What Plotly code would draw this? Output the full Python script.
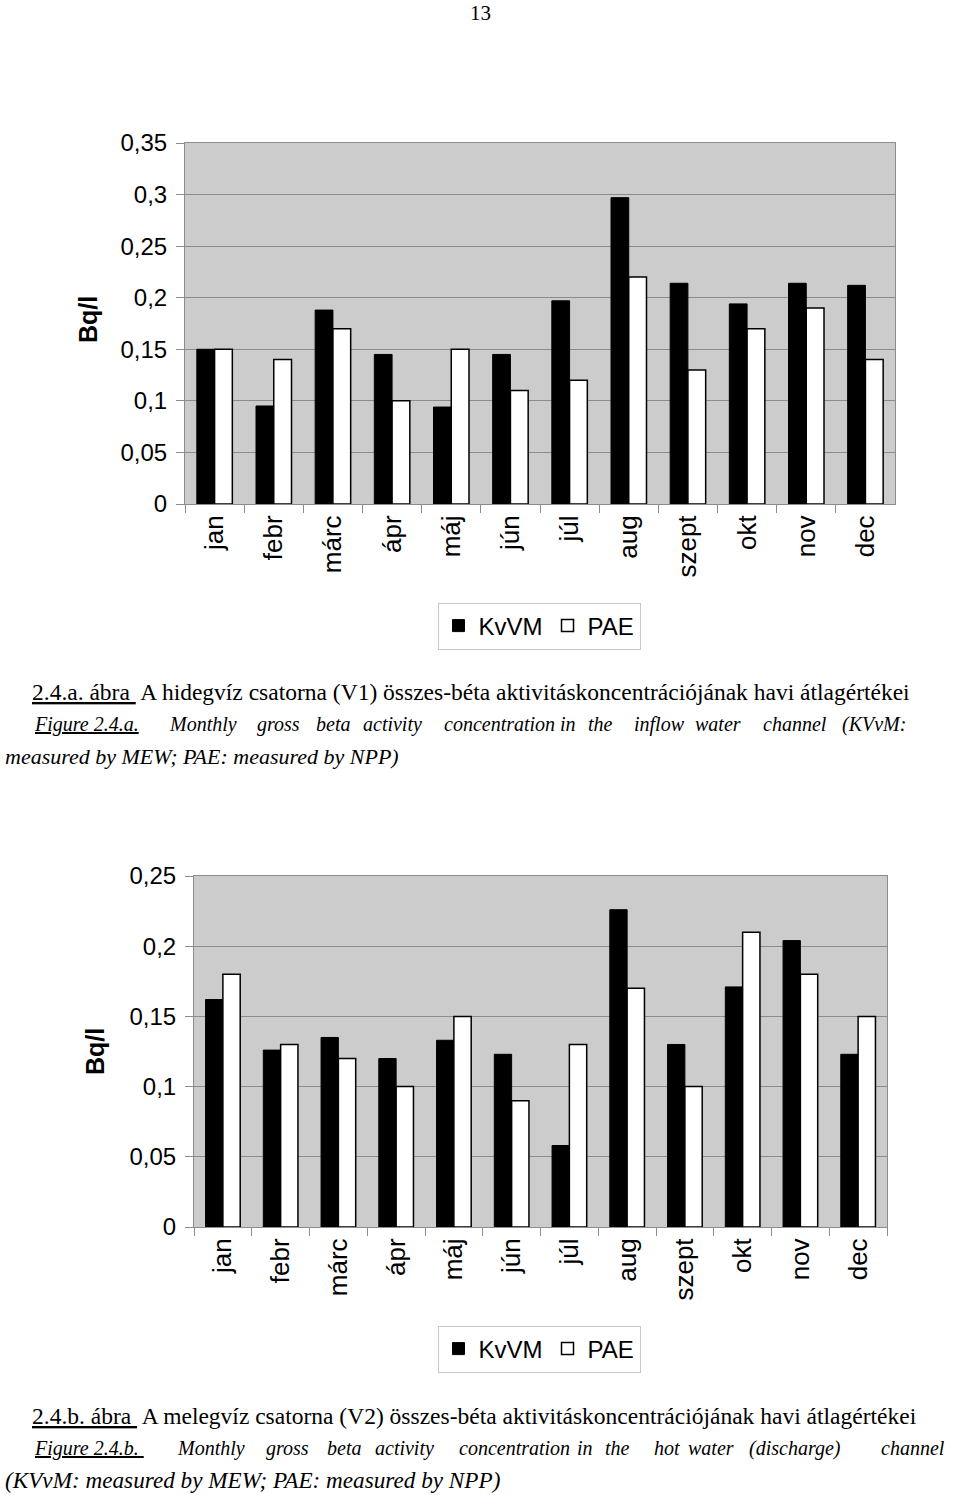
import plotly.graph_objects as go

months = ["jan", "febr", "márc", "ápr", "máj", "jún", "júl", "aug", "szept", "okt", "nov", "dec"]

# Figure 2.4.a (inflow / cold water channel V1), Bq/l
v1_kvvm = [0.150, 0.095, 0.188, 0.145, 0.094, 0.145, 0.197, 0.297, 0.214, 0.194, 0.214, 0.212]
v1_pae = [0.150, 0.140, 0.170, 0.100, 0.150, 0.110, 0.120, 0.220, 0.130, 0.170, 0.190, 0.140]

# Figure 2.4.b (hot water / discharge channel V2), Bq/l
v2_kvvm = [0.162, 0.126, 0.135, 0.120, 0.133, 0.123, 0.058, 0.226, 0.130, 0.171, 0.204, 0.123]
v2_pae = [0.180, 0.130, 0.120, 0.100, 0.150, 0.090, 0.130, 0.170, 0.100, 0.210, 0.180, 0.150]

series_names = ["KvVM", "PAE"]

W, H = 960, 1495


def px(x):
    return x / W


def py(y):
    return 1 - y / H


fig = go.Figure()

SANS = "Liberation Sans, Arial"
SERIF = "Liberation Serif, Times New Roman"

for (k, p, xa, ya, lg) in [(v1_kvvm, v1_pae, "x", "y", "legend"), (v2_kvvm, v2_pae, "x2", "y2", "legend2")]:
    fig.add_trace(go.Bar(x=months, y=k, name=series_names[0], xaxis=xa, yaxis=ya, legend=lg,
                         marker=dict(color="black", line=dict(color="black", width=1))))
    fig.add_trace(go.Bar(x=months, y=p, name=series_names[1], xaxis=xa, yaxis=ya, legend=lg,
                         marker=dict(color="white", line=dict(color="black", width=1.5))))

common_x = dict(type="category", tickangle=-90, tickfont=dict(family=SANS, size=26, color="black"),
                showline=True, linecolor="#8c8c8c",
                linewidth=1, ticks="outside", tickson="boundaries", ticklen=8, tickcolor="#8c8c8c",
                showgrid=False, mirror=True, fixedrange=True, automargin=False)
common_y = dict(tickfont=dict(family=SANS, size=24, color="black"), showline=True, linecolor="#8c8c8c",
                linewidth=1, ticks="outside",
                ticklen=8, tickcolor="#8c8c8c", gridcolor="#8c8c8c", gridwidth=1, mirror=True,
                dtick=0.05, zeroline=False, ticklabelstandoff=4, automargin=False)

legend_common = dict(orientation="h", xanchor="center", yanchor="middle",
                     bordercolor="#c8c8c8", borderwidth=1, bgcolor="white",
                     font=dict(family=SANS, size=24, color="black"),
                     itemwidth=30, tracegroupgap=0)

fig.update_layout(
    width=W, height=H, autosize=False,
    margin=dict(l=0, r=0, t=0, b=0, pad=0, autoexpand=False),
    paper_bgcolor="white", plot_bgcolor="#cccccc",
    separators=", ",
    barmode="group", bargap=0.4, bargroupgap=0.0,
    xaxis=dict(domain=[px(185), px(895)], anchor="y", **common_x),
    yaxis=dict(domain=[py(504), py(143)], anchor="x", range=[0, 0.35], **common_y),
    xaxis2=dict(domain=[px(194), px(887)], anchor="y2", **common_x),
    yaxis2=dict(domain=[py(1227), py(876)], anchor="x2", range=[0, 0.25], **common_y),
    legend=dict(x=px(539), y=py(626), **legend_common),
    legend2=dict(x=px(539), y=py(1349), **legend_common),
    showlegend=True,
)

ann = []
ann.append(dict(text="13", x=px(480), y=py(13), xanchor="center", yanchor="middle",
                font=dict(family=SERIF, size=21, color="black")))
for (tx, ty) in [(88, 320), (95, 1052)]:
    ann.append(dict(text="<b>Bq/l</b>", x=px(tx), y=py(ty), textangle=-90, xanchor="center", yanchor="middle",
                    font=dict(family=SANS, size=25, color="black")))

# (x, y, text, font size)
caption_pieces = [
    (30, 692, "<u>2.4.a. ábra </u> A hidegvíz csatorna (V1) összes-béta aktivitáskoncentrációjának havi átlagértékei", 23.5),
    (3, 756, "<i>measured by MEW; PAE: measured by NPP)</i>", 22),
    (30, 1416, "<u>2.4.b. ábra </u> A melegvíz csatorna (V2) összes-béta aktivitáskoncentrációjának havi átlagértékei", 23.5),
    (3, 1480, "<i>(KVvM: measured by MEW; PAE: measured by NPP)</i>", 23.2),
]
# justified English lines: word start positions read from the page
line_a_words = ["<u>Figure 2.4.a.</u>", "Monthly", "gross", "beta", "activity", "concentration", "in", "the",
                "inflow", "water", "channel", "(KVvM:"]
line_a_x = [32, 167, 255, 314, 361, 442, 558, 586, 632, 693, 761, 840]
line_b_words = ["<u>Figure 2.4.b. </u>", "Monthly", "gross", "beta", "activity", "concentration", "in", "the",
                "hot", "water", "(discharge)", "channel"]
line_b_x = [32, 175, 264, 325, 373, 457, 575, 603, 652, 686, 747, 879]
for wds, xs, yy in [(line_a_words, line_a_x, 724), (line_b_words, line_b_x, 1448)]:
    for w_, x_ in zip(wds, xs):
        caption_pieces.append((x_, yy, "<i>" + w_ + "</i>", 20))

for (cx, cy, t, fs) in caption_pieces:
    ann.append(dict(text=t, x=px(cx), y=py(cy), xanchor="left", yanchor="middle",
                    font=dict(family=SERIF, size=fs, color="black")))

for a in ann:
    a["showarrow"] = False
    a["xref"] = "paper"
    a["yref"] = "paper"
fig.update_layout(annotations=ann)

fig.write_html("out.html")
